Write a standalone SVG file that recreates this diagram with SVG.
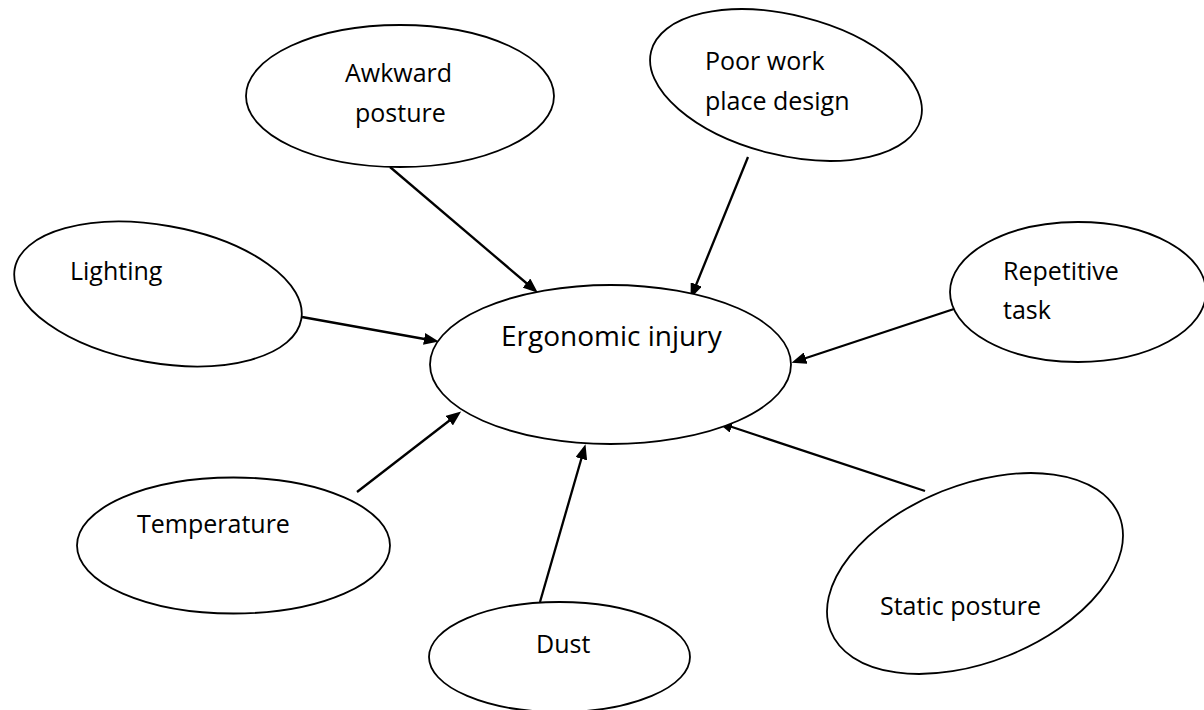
<svg xmlns="http://www.w3.org/2000/svg" width="1204" height="710" viewBox="0 0 1204 710">
<style>
.n{fill:#fff;stroke:#000;stroke-width:1.8}
.t{font-family:"Open Sans","Liberation Sans",sans-serif;font-size:25px;fill:#000}
.c{stroke:#000;stroke-width:2.3;fill:none;marker-end:url(#ah)}
</style>
<defs>
<marker id="ah" markerUnits="userSpaceOnUse" markerWidth="15" markerHeight="12" refX="6" refY="6" orient="auto">
<path d="M0,0 L15,6 L0,12 z" fill="#000"/>
</marker>
</defs>
<rect width="1204" height="710" fill="#fff"/>
<g id="connectors">
<line class="c" x1="390" y1="167" x2="531" y2="287"/>
<line class="c" x1="748" y1="157" x2="694" y2="290"/>
<line class="c" x1="302" y1="317" x2="430" y2="340"/>
<line class="c" x1="960" y1="307" x2="800" y2="360"/>
<line class="c" x1="357" y1="492" x2="454" y2="417"/>
<line class="c" x1="540" y1="602" x2="583" y2="453"/>
<line class="c" x1="925" y1="491" x2="726" y2="425"/>
</g>
<g id="center">
<ellipse class="n" cx="610.5" cy="364.5" rx="180.5" ry="79.5"/>
<text class="t" x="501" y="346" style="font-size:28px">Ergonomic injury</text>
</g>
<g id="awkward">
<ellipse class="n" cx="400" cy="96" rx="154" ry="71"/>
<text class="t" x="345" y="82">Awkward</text>
<text class="t" x="355" y="122">posture</text>
</g>
<g id="poorwork">
<ellipse class="n" cx="786" cy="85" rx="139" ry="70" transform="rotate(14 786 85)"/>
<text class="t" x="705" y="70">Poor work</text>
<text class="t" x="705" y="110">place design</text>
</g>
<g id="lighting">
<ellipse class="n" cx="158" cy="294" rx="145.5" ry="68.8" transform="rotate(10 158 294)"/>
<text class="t" x="70" y="280">Lighting</text>
</g>
<g id="repetitive">
<ellipse class="n" cx="1078" cy="292" rx="128" ry="70"/>
<text class="t" x="1003" y="280">Repetitive</text>
<text class="t" x="1003" y="319">task</text>
</g>
<g id="temperature">
<ellipse class="n" cx="233.5" cy="545.5" rx="156.5" ry="68"/>
<text class="t" x="137" y="533">Temperature</text>
</g>
<g id="dust">
<ellipse class="n" cx="559.5" cy="657" rx="130.5" ry="55"/>
<text class="t" x="536" y="653">Dust</text>
</g>
<g id="static">
<ellipse class="n" cx="975" cy="573.5" rx="155.4" ry="88.6" transform="rotate(-21.8 975 573.5)"/>
<text class="t" x="880" y="615">Static posture</text>
</g>
</svg>
